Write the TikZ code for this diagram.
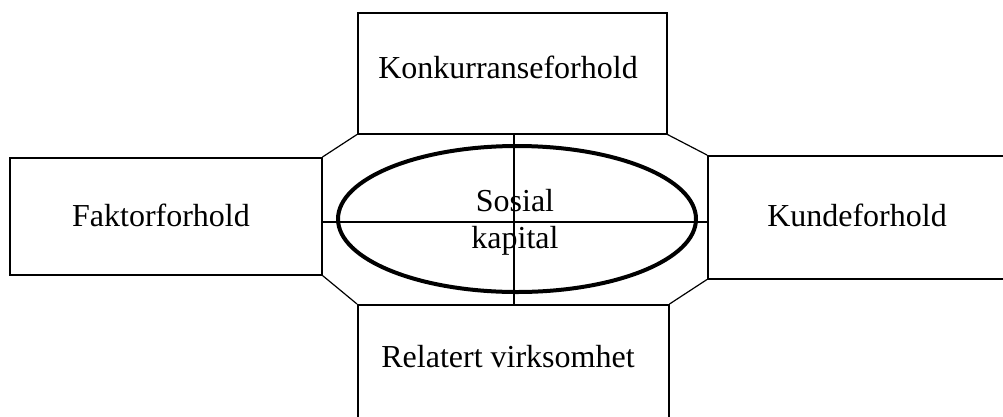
\documentclass[tikz,border=0pt]{standalone}
\usepackage{fontspec}
\setmainfont{Liberation Serif}
\usetikzlibrary{shapes.geometric}
\begin{document}
\begin{tikzpicture}[x=1pt,y=-1pt,
  box/.style={draw, line width=1.5pt, inner sep=0pt, anchor=north west},
  lbl/.style={inner sep=0pt, align=center, font=\fontsize{32}{37}\selectfont},
  thinline/.style={line width=1.2pt},
  oval/.style={draw, ellipse, line width=4pt, inner sep=0pt}]
\useasboundingbox (0,0) rectangle (1003,416);
\clip (0,0) rectangle (1003,416);
\node[box, minimum width=309pt, minimum height=121pt] (top) at (357,12) {};
\node[box, minimum width=312pt, minimum height=117pt] (left) at (9,157) {};
\node[box, minimum width=300pt, minimum height=123pt] (right) at (707,155) {};
\node[box, minimum width=311pt, minimum height=125pt] (bot) at (357,304) {};
\node[lbl] (toplbl) at (508,67) {Konkurranseforhold};
\node[lbl] (leftlbl) at (161,215) {Faktorforhold};
\node[lbl] (rightlbl) at (857,215) {Kundeforhold};
\node[lbl] (botlbl) at (508,357) {Relatert virksomhet};
\draw[thinline] (top.south west) -- (left.north east);
\draw[thinline] (top.south east) -- (right.north west);
\draw[thinline] (left.south east) -- (bot.north west);
\draw[thinline] (bot.north east) -- (right.south west);
\node[oval, minimum width=358pt, minimum height=146pt] (ell) at (517,219) {};
\node[lbl] (elllbl) at (515,222) {Sosial\\kapital};
\coordinate (vx) at (514,0);
\coordinate (hy) at (0,222);
\draw[thinline] (top.south -| vx) -- (bot.north -| vx);
\draw[thinline] (left.east |- hy) -- (right.west |- hy);
\end{tikzpicture}
\end{document}
